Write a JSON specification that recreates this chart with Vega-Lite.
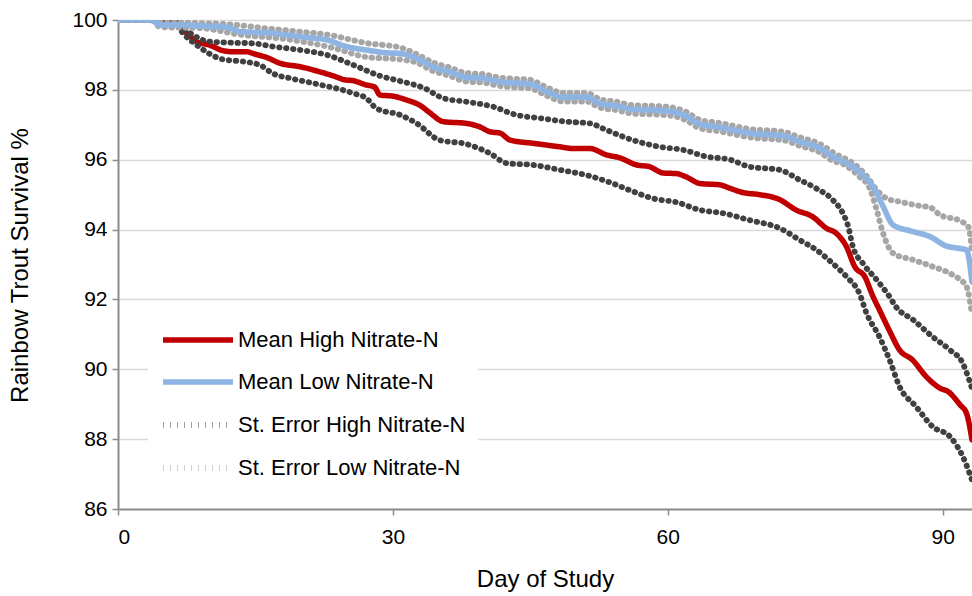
{
  "$schema": "https://vega.github.io/schema/vega-lite/v6.json",
  "width": 854,
  "height": 489,
  "autosize": {"type": "none"},
  "padding": {"left": 118, "top": 20, "right": 0, "bottom": 87},
  "background": "white",
  "config": {
    "view": {"stroke": null},
    "font": "Liberation Sans",
    "axis": {"labelFont": "Liberation Sans", "titleFont": "Liberation Sans", "labelColor": "#000000", "titleColor": "#000000", "titleFontWeight": "normal"},
    "legend": {"labelFont": "Liberation Sans"}
  },
  "datasets": {
    "curves": [
      {"series": "Mean High Nitrate-N", "line": "MH", "day": 0, "value": 100},
      {"series": "Mean High Nitrate-N", "line": "MH", "day": 6, "value": 100},
      {"series": "Mean High Nitrate-N", "line": "MH", "day": 6.8, "value": 99.81},
      {"series": "Mean High Nitrate-N", "line": "MH", "day": 7.5, "value": 99.62},
      {"series": "Mean High Nitrate-N", "line": "MH", "day": 8.6, "value": 99.38},
      {"series": "Mean High Nitrate-N", "line": "MH", "day": 10, "value": 99.28},
      {"series": "Mean High Nitrate-N", "line": "MH", "day": 11.5, "value": 99.12},
      {"series": "Mean High Nitrate-N", "line": "MH", "day": 12.6, "value": 99.09},
      {"series": "Mean High Nitrate-N", "line": "MH", "day": 14, "value": 99.09},
      {"series": "Mean High Nitrate-N", "line": "MH", "day": 15, "value": 99.02},
      {"series": "Mean High Nitrate-N", "line": "MH", "day": 16.2, "value": 98.93},
      {"series": "Mean High Nitrate-N", "line": "MH", "day": 17.7, "value": 98.76},
      {"series": "Mean High Nitrate-N", "line": "MH", "day": 19.9, "value": 98.66},
      {"series": "Mean High Nitrate-N", "line": "MH", "day": 21.7, "value": 98.54},
      {"series": "Mean High Nitrate-N", "line": "MH", "day": 23.5, "value": 98.4},
      {"series": "Mean High Nitrate-N", "line": "MH", "day": 24.9, "value": 98.28},
      {"series": "Mean High Nitrate-N", "line": "MH", "day": 25.5, "value": 98.27},
      {"series": "Mean High Nitrate-N", "line": "MH", "day": 27.1, "value": 98.14},
      {"series": "Mean High Nitrate-N", "line": "MH", "day": 28, "value": 98.08},
      {"series": "Mean High Nitrate-N", "line": "MH", "day": 28.6, "value": 97.85},
      {"series": "Mean High Nitrate-N", "line": "MH", "day": 30, "value": 97.82},
      {"series": "Mean High Nitrate-N", "line": "MH", "day": 31.5, "value": 97.71},
      {"series": "Mean High Nitrate-N", "line": "MH", "day": 33, "value": 97.55},
      {"series": "Mean High Nitrate-N", "line": "MH", "day": 34, "value": 97.35},
      {"series": "Mean High Nitrate-N", "line": "MH", "day": 35.5, "value": 97.09},
      {"series": "Mean High Nitrate-N", "line": "MH", "day": 38, "value": 97.04},
      {"series": "Mean High Nitrate-N", "line": "MH", "day": 39.5, "value": 96.94},
      {"series": "Mean High Nitrate-N", "line": "MH", "day": 40.6, "value": 96.8},
      {"series": "Mean High Nitrate-N", "line": "MH", "day": 41.7, "value": 96.76},
      {"series": "Mean High Nitrate-N", "line": "MH", "day": 42.8, "value": 96.56},
      {"series": "Mean High Nitrate-N", "line": "MH", "day": 45.3, "value": 96.47},
      {"series": "Mean High Nitrate-N", "line": "MH", "day": 48.2, "value": 96.37},
      {"series": "Mean High Nitrate-N", "line": "MH", "day": 49.7, "value": 96.32},
      {"series": "Mean High Nitrate-N", "line": "MH", "day": 51.5, "value": 96.32},
      {"series": "Mean High Nitrate-N", "line": "MH", "day": 53.3, "value": 96.14},
      {"series": "Mean High Nitrate-N", "line": "MH", "day": 54.8, "value": 96.05},
      {"series": "Mean High Nitrate-N", "line": "MH", "day": 56.6, "value": 95.85},
      {"series": "Mean High Nitrate-N", "line": "MH", "day": 58, "value": 95.8},
      {"series": "Mean High Nitrate-N", "line": "MH", "day": 59.5, "value": 95.62},
      {"series": "Mean High Nitrate-N", "line": "MH", "day": 61, "value": 95.6},
      {"series": "Mean High Nitrate-N", "line": "MH", "day": 62, "value": 95.51},
      {"series": "Mean High Nitrate-N", "line": "MH", "day": 63.5, "value": 95.32},
      {"series": "Mean High Nitrate-N", "line": "MH", "day": 65.7, "value": 95.28},
      {"series": "Mean High Nitrate-N", "line": "MH", "day": 66.8, "value": 95.18},
      {"series": "Mean High Nitrate-N", "line": "MH", "day": 68.2, "value": 95.06},
      {"series": "Mean High Nitrate-N", "line": "MH", "day": 70, "value": 95.0},
      {"series": "Mean High Nitrate-N", "line": "MH", "day": 72.2, "value": 94.86},
      {"series": "Mean High Nitrate-N", "line": "MH", "day": 74, "value": 94.56},
      {"series": "Mean High Nitrate-N", "line": "MH", "day": 75.8, "value": 94.37},
      {"series": "Mean High Nitrate-N", "line": "MH", "day": 77.3, "value": 94.04},
      {"series": "Mean High Nitrate-N", "line": "MH", "day": 78.4, "value": 93.89},
      {"series": "Mean High Nitrate-N", "line": "MH", "day": 79.5, "value": 93.51},
      {"series": "Mean High Nitrate-N", "line": "MH", "day": 80.4, "value": 92.94},
      {"series": "Mean High Nitrate-N", "line": "MH", "day": 81.5, "value": 92.65},
      {"series": "Mean High Nitrate-N", "line": "MH", "day": 82.4, "value": 92.08},
      {"series": "Mean High Nitrate-N", "line": "MH", "day": 83.1, "value": 91.7},
      {"series": "Mean High Nitrate-N", "line": "MH", "day": 84.2, "value": 91.1},
      {"series": "Mean High Nitrate-N", "line": "MH", "day": 85.3, "value": 90.55},
      {"series": "Mean High Nitrate-N", "line": "MH", "day": 86.7, "value": 90.27},
      {"series": "Mean High Nitrate-N", "line": "MH", "day": 88.2, "value": 89.79},
      {"series": "Mean High Nitrate-N", "line": "MH", "day": 89.7, "value": 89.46},
      {"series": "Mean High Nitrate-N", "line": "MH", "day": 90.6, "value": 89.36},
      {"series": "Mean High Nitrate-N", "line": "MH", "day": 91.9, "value": 88.98},
      {"series": "Mean High Nitrate-N", "line": "MH", "day": 92.6, "value": 88.74},
      {"series": "Mean High Nitrate-N", "line": "MH", "day": 93.2, "value": 87.98},

      {"series": "St. Error High Nitrate-N", "line": "SHU", "day": 0, "value": 100},
      {"series": "St. Error High Nitrate-N", "line": "SHU", "day": 6, "value": 100},
      {"series": "St. Error High Nitrate-N", "line": "SHU", "day": 6.8, "value": 99.85},
      {"series": "St. Error High Nitrate-N", "line": "SHU", "day": 8.2, "value": 99.57},
      {"series": "St. Error High Nitrate-N", "line": "SHU", "day": 10, "value": 99.38},
      {"series": "St. Error High Nitrate-N", "line": "SHU", "day": 12.6, "value": 99.35},
      {"series": "St. Error High Nitrate-N", "line": "SHU", "day": 14.8, "value": 99.33},
      {"series": "St. Error High Nitrate-N", "line": "SHU", "day": 16.9, "value": 99.24},
      {"series": "St. Error High Nitrate-N", "line": "SHU", "day": 19.9, "value": 99.14},
      {"series": "St. Error High Nitrate-N", "line": "SHU", "day": 22.8, "value": 99.0},
      {"series": "St. Error High Nitrate-N", "line": "SHU", "day": 25.7, "value": 98.71},
      {"series": "St. Error High Nitrate-N", "line": "SHU", "day": 28.6, "value": 98.4},
      {"series": "St. Error High Nitrate-N", "line": "SHU", "day": 30.8, "value": 98.25},
      {"series": "St. Error High Nitrate-N", "line": "SHU", "day": 33.5, "value": 98.04},
      {"series": "St. Error High Nitrate-N", "line": "SHU", "day": 35.5, "value": 97.76},
      {"series": "St. Error High Nitrate-N", "line": "SHU", "day": 38, "value": 97.66},
      {"series": "St. Error High Nitrate-N", "line": "SHU", "day": 40.9, "value": 97.52},
      {"series": "St. Error High Nitrate-N", "line": "SHU", "day": 43.5, "value": 97.28},
      {"series": "St. Error High Nitrate-N", "line": "SHU", "day": 46, "value": 97.19},
      {"series": "St. Error High Nitrate-N", "line": "SHU", "day": 48.9, "value": 97.09},
      {"series": "St. Error High Nitrate-N", "line": "SHU", "day": 51.5, "value": 97.04},
      {"series": "St. Error High Nitrate-N", "line": "SHU", "day": 53.3, "value": 96.85},
      {"series": "St. Error High Nitrate-N", "line": "SHU", "day": 56.2, "value": 96.56},
      {"series": "St. Error High Nitrate-N", "line": "SHU", "day": 59.1, "value": 96.37},
      {"series": "St. Error High Nitrate-N", "line": "SHU", "day": 61.7, "value": 96.28},
      {"series": "St. Error High Nitrate-N", "line": "SHU", "day": 64.2, "value": 96.09},
      {"series": "St. Error High Nitrate-N", "line": "SHU", "day": 66.8, "value": 96.0},
      {"series": "St. Error High Nitrate-N", "line": "SHU", "day": 68.9, "value": 95.8},
      {"series": "St. Error High Nitrate-N", "line": "SHU", "day": 72.2, "value": 95.71},
      {"series": "St. Error High Nitrate-N", "line": "SHU", "day": 74.4, "value": 95.42},
      {"series": "St. Error High Nitrate-N", "line": "SHU", "day": 76.2, "value": 95.18},
      {"series": "St. Error High Nitrate-N", "line": "SHU", "day": 78, "value": 94.85},
      {"series": "St. Error High Nitrate-N", "line": "SHU", "day": 79.1, "value": 94.47},
      {"series": "St. Error High Nitrate-N", "line": "SHU", "day": 79.7, "value": 94.08},
      {"series": "St. Error High Nitrate-N", "line": "SHU", "day": 80.2, "value": 93.51},
      {"series": "St. Error High Nitrate-N", "line": "SHU", "day": 81.3, "value": 93.03},
      {"series": "St. Error High Nitrate-N", "line": "SHU", "day": 82.8, "value": 92.56},
      {"series": "St. Error High Nitrate-N", "line": "SHU", "day": 84.2, "value": 92.08},
      {"series": "St. Error High Nitrate-N", "line": "SHU", "day": 84.9, "value": 91.79},
      {"series": "St. Error High Nitrate-N", "line": "SHU", "day": 86.8, "value": 91.41},
      {"series": "St. Error High Nitrate-N", "line": "SHU", "day": 88.9, "value": 90.93},
      {"series": "St. Error High Nitrate-N", "line": "SHU", "day": 90.8, "value": 90.55},
      {"series": "St. Error High Nitrate-N", "line": "SHU", "day": 92.2, "value": 90.17},
      {"series": "St. Error High Nitrate-N", "line": "SHU", "day": 92.9, "value": 89.69},
      {"series": "St. Error High Nitrate-N", "line": "SHU", "day": 93.2, "value": 89.45},

      {"series": "St. Error High Nitrate-N", "line": "SHL", "day": 0, "value": 100},
      {"series": "St. Error High Nitrate-N", "line": "SHL", "day": 6, "value": 100},
      {"series": "St. Error High Nitrate-N", "line": "SHL", "day": 7.1, "value": 99.62},
      {"series": "St. Error High Nitrate-N", "line": "SHL", "day": 8.6, "value": 99.28},
      {"series": "St. Error High Nitrate-N", "line": "SHL", "day": 11.5, "value": 98.87},
      {"series": "St. Error High Nitrate-N", "line": "SHL", "day": 13.7, "value": 98.81},
      {"series": "St. Error High Nitrate-N", "line": "SHL", "day": 15.5, "value": 98.71},
      {"series": "St. Error High Nitrate-N", "line": "SHL", "day": 16.9, "value": 98.47},
      {"series": "St. Error High Nitrate-N", "line": "SHL", "day": 19, "value": 98.32},
      {"series": "St. Error High Nitrate-N", "line": "SHL", "day": 21.3, "value": 98.19},
      {"series": "St. Error High Nitrate-N", "line": "SHL", "day": 25.7, "value": 97.9},
      {"series": "St. Error High Nitrate-N", "line": "SHL", "day": 27.1, "value": 97.76},
      {"series": "St. Error High Nitrate-N", "line": "SHL", "day": 28.2, "value": 97.47},
      {"series": "St. Error High Nitrate-N", "line": "SHL", "day": 30.8, "value": 97.28},
      {"series": "St. Error High Nitrate-N", "line": "SHL", "day": 32.6, "value": 97.04},
      {"series": "St. Error High Nitrate-N", "line": "SHL", "day": 35.1, "value": 96.56},
      {"series": "St. Error High Nitrate-N", "line": "SHL", "day": 38, "value": 96.45},
      {"series": "St. Error High Nitrate-N", "line": "SHL", "day": 40.6, "value": 96.18},
      {"series": "St. Error High Nitrate-N", "line": "SHL", "day": 42.4, "value": 95.9},
      {"series": "St. Error High Nitrate-N", "line": "SHL", "day": 45.3, "value": 95.85},
      {"series": "St. Error High Nitrate-N", "line": "SHL", "day": 48.2, "value": 95.71},
      {"series": "St. Error High Nitrate-N", "line": "SHL", "day": 51.1, "value": 95.56},
      {"series": "St. Error High Nitrate-N", "line": "SHL", "day": 54, "value": 95.32},
      {"series": "St. Error High Nitrate-N", "line": "SHL", "day": 56.2, "value": 95.09},
      {"series": "St. Error High Nitrate-N", "line": "SHL", "day": 58.4, "value": 94.89},
      {"series": "St. Error High Nitrate-N", "line": "SHL", "day": 61, "value": 94.78},
      {"series": "St. Error High Nitrate-N", "line": "SHL", "day": 63.5, "value": 94.56},
      {"series": "St. Error High Nitrate-N", "line": "SHL", "day": 66, "value": 94.47},
      {"series": "St. Error High Nitrate-N", "line": "SHL", "day": 68.9, "value": 94.27},
      {"series": "St. Error High Nitrate-N", "line": "SHL", "day": 72.2, "value": 94.04},
      {"series": "St. Error High Nitrate-N", "line": "SHL", "day": 74.4, "value": 93.7},
      {"series": "St. Error High Nitrate-N", "line": "SHL", "day": 76.2, "value": 93.42},
      {"series": "St. Error High Nitrate-N", "line": "SHL", "day": 78, "value": 93.03},
      {"series": "St. Error High Nitrate-N", "line": "SHL", "day": 79.5, "value": 92.65},
      {"series": "St. Error High Nitrate-N", "line": "SHL", "day": 80.9, "value": 92.18},
      {"series": "St. Error High Nitrate-N", "line": "SHL", "day": 81.7, "value": 91.6},
      {"series": "St. Error High Nitrate-N", "line": "SHL", "day": 83.1, "value": 90.93},
      {"series": "St. Error High Nitrate-N", "line": "SHL", "day": 84.2, "value": 90.27},
      {"series": "St. Error High Nitrate-N", "line": "SHL", "day": 85.3, "value": 89.5},
      {"series": "St. Error High Nitrate-N", "line": "SHL", "day": 87.1, "value": 88.93},
      {"series": "St. Error High Nitrate-N", "line": "SHL", "day": 88.9, "value": 88.36},
      {"series": "St. Error High Nitrate-N", "line": "SHL", "day": 90.8, "value": 88.07},
      {"series": "St. Error High Nitrate-N", "line": "SHL", "day": 92.2, "value": 87.5},
      {"series": "St. Error High Nitrate-N", "line": "SHL", "day": 93.2, "value": 86.83},

      {"series": "St. Error Low Nitrate-N", "line": "SLU", "day": 0, "value": 100},
      {"series": "St. Error Low Nitrate-N", "line": "SLU", "day": 6, "value": 100},
      {"series": "St. Error Low Nitrate-N", "line": "SLU", "day": 7, "value": 99.93},
      {"series": "St. Error Low Nitrate-N", "line": "SLU", "day": 11.9, "value": 99.88},
      {"series": "St. Error Low Nitrate-N", "line": "SLU", "day": 16.9, "value": 99.74},
      {"series": "St. Error Low Nitrate-N", "line": "SLU", "day": 20, "value": 99.66},
      {"series": "St. Error Low Nitrate-N", "line": "SLU", "day": 23.5, "value": 99.55},
      {"series": "St. Error Low Nitrate-N", "line": "SLU", "day": 25, "value": 99.46},
      {"series": "St. Error Low Nitrate-N", "line": "SLU", "day": 27.1, "value": 99.34},
      {"series": "St. Error Low Nitrate-N", "line": "SLU", "day": 30.8, "value": 99.21},
      {"series": "St. Error Low Nitrate-N", "line": "SLU", "day": 32.6, "value": 99.02},
      {"series": "St. Error Low Nitrate-N", "line": "SLU", "day": 34.4, "value": 98.78},
      {"series": "St. Error Low Nitrate-N", "line": "SLU", "day": 36.2, "value": 98.64},
      {"series": "St. Error Low Nitrate-N", "line": "SLU", "day": 38, "value": 98.48},
      {"series": "St. Error Low Nitrate-N", "line": "SLU", "day": 39.8, "value": 98.45},
      {"series": "St. Error Low Nitrate-N", "line": "SLU", "day": 41.7, "value": 98.35},
      {"series": "St. Error Low Nitrate-N", "line": "SLU", "day": 43.5, "value": 98.31},
      {"series": "St. Error Low Nitrate-N", "line": "SLU", "day": 44.9, "value": 98.29},
      {"series": "St. Error Low Nitrate-N", "line": "SLU", "day": 46.8, "value": 98.07},
      {"series": "St. Error Low Nitrate-N", "line": "SLU", "day": 48.6, "value": 97.91},
      {"series": "St. Error Low Nitrate-N", "line": "SLU", "day": 51.1, "value": 97.91},
      {"series": "St. Error Low Nitrate-N", "line": "SLU", "day": 52.6, "value": 97.73},
      {"series": "St. Error Low Nitrate-N", "line": "SLU", "day": 54.4, "value": 97.66},
      {"series": "St. Error Low Nitrate-N", "line": "SLU", "day": 56.2, "value": 97.56},
      {"series": "St. Error Low Nitrate-N", "line": "SLU", "day": 58.4, "value": 97.54},
      {"series": "St. Error Low Nitrate-N", "line": "SLU", "day": 60.6, "value": 97.49},
      {"series": "St. Error Low Nitrate-N", "line": "SLU", "day": 62, "value": 97.37},
      {"series": "St. Error Low Nitrate-N", "line": "SLU", "day": 63.5, "value": 97.14},
      {"series": "St. Error Low Nitrate-N", "line": "SLU", "day": 65.7, "value": 97.05},
      {"series": "St. Error Low Nitrate-N", "line": "SLU", "day": 66.8, "value": 96.99},
      {"series": "St. Error Low Nitrate-N", "line": "SLU", "day": 68.9, "value": 96.88},
      {"series": "St. Error Low Nitrate-N", "line": "SLU", "day": 72.6, "value": 96.8},
      {"series": "St. Error Low Nitrate-N", "line": "SLU", "day": 74.4, "value": 96.64},
      {"series": "St. Error Low Nitrate-N", "line": "SLU", "day": 76.6, "value": 96.45},
      {"series": "St. Error Low Nitrate-N", "line": "SLU", "day": 78, "value": 96.21},
      {"series": "St. Error Low Nitrate-N", "line": "SLU", "day": 80.6, "value": 95.82},
      {"series": "St. Error Low Nitrate-N", "line": "SLU", "day": 81.7, "value": 95.53},
      {"series": "St. Error Low Nitrate-N", "line": "SLU", "day": 82.8, "value": 95.13},
      {"series": "St. Error Low Nitrate-N", "line": "SLU", "day": 83.9, "value": 94.89},
      {"series": "St. Error Low Nitrate-N", "line": "SLU", "day": 85.3, "value": 94.8},
      {"series": "St. Error Low Nitrate-N", "line": "SLU", "day": 87.5, "value": 94.68},
      {"series": "St. Error Low Nitrate-N", "line": "SLU", "day": 88.6, "value": 94.64},
      {"series": "St. Error Low Nitrate-N", "line": "SLU", "day": 89.7, "value": 94.42},
      {"series": "St. Error Low Nitrate-N", "line": "SLU", "day": 91.9, "value": 94.25},
      {"series": "St. Error Low Nitrate-N", "line": "SLU", "day": 92.8, "value": 94.08},
      {"series": "St. Error Low Nitrate-N", "line": "SLU", "day": 93.2, "value": 93.4},

      {"series": "St. Error Low Nitrate-N", "line": "SLL", "day": 0, "value": 100},
      {"series": "St. Error Low Nitrate-N", "line": "SLL", "day": 3.6, "value": 100},
      {"series": "St. Error Low Nitrate-N", "line": "SLL", "day": 4.6, "value": 99.8},
      {"series": "St. Error Low Nitrate-N", "line": "SLL", "day": 9, "value": 99.77},
      {"series": "St. Error Low Nitrate-N", "line": "SLL", "day": 13.3, "value": 99.58},
      {"series": "St. Error Low Nitrate-N", "line": "SLL", "day": 18.4, "value": 99.45},
      {"series": "St. Error Low Nitrate-N", "line": "SLL", "day": 23.5, "value": 99.2},
      {"series": "St. Error Low Nitrate-N", "line": "SLL", "day": 27.1, "value": 98.94},
      {"series": "St. Error Low Nitrate-N", "line": "SLL", "day": 30.8, "value": 98.87},
      {"series": "St. Error Low Nitrate-N", "line": "SLL", "day": 32.6, "value": 98.78},
      {"series": "St. Error Low Nitrate-N", "line": "SLL", "day": 34.4, "value": 98.54},
      {"series": "St. Error Low Nitrate-N", "line": "SLL", "day": 36.2, "value": 98.4},
      {"series": "St. Error Low Nitrate-N", "line": "SLL", "day": 38, "value": 98.24},
      {"series": "St. Error Low Nitrate-N", "line": "SLL", "day": 39.8, "value": 98.21},
      {"series": "St. Error Low Nitrate-N", "line": "SLL", "day": 41.7, "value": 98.11},
      {"series": "St. Error Low Nitrate-N", "line": "SLL", "day": 43.5, "value": 98.07},
      {"series": "St. Error Low Nitrate-N", "line": "SLL", "day": 44.9, "value": 98.05},
      {"series": "St. Error Low Nitrate-N", "line": "SLL", "day": 46.8, "value": 97.83},
      {"series": "St. Error Low Nitrate-N", "line": "SLL", "day": 48.6, "value": 97.67},
      {"series": "St. Error Low Nitrate-N", "line": "SLL", "day": 51.1, "value": 97.67},
      {"series": "St. Error Low Nitrate-N", "line": "SLL", "day": 52.6, "value": 97.49},
      {"series": "St. Error Low Nitrate-N", "line": "SLL", "day": 54.4, "value": 97.42},
      {"series": "St. Error Low Nitrate-N", "line": "SLL", "day": 56.2, "value": 97.32},
      {"series": "St. Error Low Nitrate-N", "line": "SLL", "day": 58.4, "value": 97.3},
      {"series": "St. Error Low Nitrate-N", "line": "SLL", "day": 60.6, "value": 97.25},
      {"series": "St. Error Low Nitrate-N", "line": "SLL", "day": 62, "value": 97.13},
      {"series": "St. Error Low Nitrate-N", "line": "SLL", "day": 63.5, "value": 96.9},
      {"series": "St. Error Low Nitrate-N", "line": "SLL", "day": 65.7, "value": 96.81},
      {"series": "St. Error Low Nitrate-N", "line": "SLL", "day": 66.8, "value": 96.75},
      {"series": "St. Error Low Nitrate-N", "line": "SLL", "day": 68.9, "value": 96.64},
      {"series": "St. Error Low Nitrate-N", "line": "SLL", "day": 72.6, "value": 96.56},
      {"series": "St. Error Low Nitrate-N", "line": "SLL", "day": 74.4, "value": 96.4},
      {"series": "St. Error Low Nitrate-N", "line": "SLL", "day": 76.6, "value": 96.21},
      {"series": "St. Error Low Nitrate-N", "line": "SLL", "day": 78, "value": 95.97},
      {"series": "St. Error Low Nitrate-N", "line": "SLL", "day": 79.1, "value": 95.88},
      {"series": "St. Error Low Nitrate-N", "line": "SLL", "day": 80.9, "value": 95.52},
      {"series": "St. Error Low Nitrate-N", "line": "SLL", "day": 82, "value": 95.2},
      {"series": "St. Error Low Nitrate-N", "line": "SLL", "day": 82.8, "value": 94.56},
      {"series": "St. Error Low Nitrate-N", "line": "SLL", "day": 83.5, "value": 93.89},
      {"series": "St. Error Low Nitrate-N", "line": "SLL", "day": 84.6, "value": 93.32},
      {"series": "St. Error Low Nitrate-N", "line": "SLL", "day": 86.8, "value": 93.13},
      {"series": "St. Error Low Nitrate-N", "line": "SLL", "day": 88.9, "value": 92.94},
      {"series": "St. Error Low Nitrate-N", "line": "SLL", "day": 91.1, "value": 92.7},
      {"series": "St. Error Low Nitrate-N", "line": "SLL", "day": 92.6, "value": 92.37},
      {"series": "St. Error Low Nitrate-N", "line": "SLL", "day": 93.2, "value": 91.55},

      {"series": "Mean Low Nitrate-N", "line": "ML", "day": 0, "value": 100},
      {"series": "Mean Low Nitrate-N", "line": "ML", "day": 3.6, "value": 100},
      {"series": "Mean Low Nitrate-N", "line": "ML", "day": 4.6, "value": 99.86},
      {"series": "Mean Low Nitrate-N", "line": "ML", "day": 6.8, "value": 99.86},
      {"series": "Mean Low Nitrate-N", "line": "ML", "day": 9, "value": 99.83},
      {"series": "Mean Low Nitrate-N", "line": "ML", "day": 11.9, "value": 99.79},
      {"series": "Mean Low Nitrate-N", "line": "ML", "day": 13.3, "value": 99.67},
      {"series": "Mean Low Nitrate-N", "line": "ML", "day": 16.9, "value": 99.62},
      {"series": "Mean Low Nitrate-N", "line": "ML", "day": 18.4, "value": 99.57},
      {"series": "Mean Low Nitrate-N", "line": "ML", "day": 20.6, "value": 99.5},
      {"series": "Mean Low Nitrate-N", "line": "ML", "day": 22.8, "value": 99.43},
      {"series": "Mean Low Nitrate-N", "line": "ML", "day": 24.9, "value": 99.24},
      {"series": "Mean Low Nitrate-N", "line": "ML", "day": 27.1, "value": 99.14},
      {"series": "Mean Low Nitrate-N", "line": "ML", "day": 29.3, "value": 99.06},
      {"series": "Mean Low Nitrate-N", "line": "ML", "day": 30.8, "value": 99.04},
      {"series": "Mean Low Nitrate-N", "line": "ML", "day": 32.6, "value": 98.9},
      {"series": "Mean Low Nitrate-N", "line": "ML", "day": 34.4, "value": 98.66},
      {"series": "Mean Low Nitrate-N", "line": "ML", "day": 36.2, "value": 98.52},
      {"series": "Mean Low Nitrate-N", "line": "ML", "day": 38, "value": 98.36},
      {"series": "Mean Low Nitrate-N", "line": "ML", "day": 39.8, "value": 98.33},
      {"series": "Mean Low Nitrate-N", "line": "ML", "day": 41.7, "value": 98.23},
      {"series": "Mean Low Nitrate-N", "line": "ML", "day": 43.5, "value": 98.19},
      {"series": "Mean Low Nitrate-N", "line": "ML", "day": 44.9, "value": 98.17},
      {"series": "Mean Low Nitrate-N", "line": "ML", "day": 46.8, "value": 97.95},
      {"series": "Mean Low Nitrate-N", "line": "ML", "day": 48.6, "value": 97.79},
      {"series": "Mean Low Nitrate-N", "line": "ML", "day": 51.1, "value": 97.79},
      {"series": "Mean Low Nitrate-N", "line": "ML", "day": 52.6, "value": 97.61},
      {"series": "Mean Low Nitrate-N", "line": "ML", "day": 54.4, "value": 97.54},
      {"series": "Mean Low Nitrate-N", "line": "ML", "day": 56.2, "value": 97.44},
      {"series": "Mean Low Nitrate-N", "line": "ML", "day": 58.4, "value": 97.42},
      {"series": "Mean Low Nitrate-N", "line": "ML", "day": 60.6, "value": 97.37},
      {"series": "Mean Low Nitrate-N", "line": "ML", "day": 62, "value": 97.25},
      {"series": "Mean Low Nitrate-N", "line": "ML", "day": 63.5, "value": 97.02},
      {"series": "Mean Low Nitrate-N", "line": "ML", "day": 65.7, "value": 96.93},
      {"series": "Mean Low Nitrate-N", "line": "ML", "day": 66.8, "value": 96.87},
      {"series": "Mean Low Nitrate-N", "line": "ML", "day": 68.9, "value": 96.76},
      {"series": "Mean Low Nitrate-N", "line": "ML", "day": 72.6, "value": 96.68},
      {"series": "Mean Low Nitrate-N", "line": "ML", "day": 74.4, "value": 96.52},
      {"series": "Mean Low Nitrate-N", "line": "ML", "day": 76.6, "value": 96.33},
      {"series": "Mean Low Nitrate-N", "line": "ML", "day": 78, "value": 96.09},
      {"series": "Mean Low Nitrate-N", "line": "ML", "day": 79.9, "value": 95.85},
      {"series": "Mean Low Nitrate-N", "line": "ML", "day": 81.3, "value": 95.56},
      {"series": "Mean Low Nitrate-N", "line": "ML", "day": 82.4, "value": 95.23},
      {"series": "Mean Low Nitrate-N", "line": "ML", "day": 83.5, "value": 94.66},
      {"series": "Mean Low Nitrate-N", "line": "ML", "day": 84.6, "value": 94.13},
      {"series": "Mean Low Nitrate-N", "line": "ML", "day": 86.8, "value": 93.94},
      {"series": "Mean Low Nitrate-N", "line": "ML", "day": 88.6, "value": 93.8},
      {"series": "Mean Low Nitrate-N", "line": "ML", "day": 90.4, "value": 93.53},
      {"series": "Mean Low Nitrate-N", "line": "ML", "day": 91.8, "value": 93.46},
      {"series": "Mean Low Nitrate-N", "line": "ML", "day": 92.6, "value": 93.42},
      {"series": "Mean Low Nitrate-N", "line": "ML", "day": 93.2, "value": 92.5}
    ]
  },
  "data": {"name": "curves"},
  "encoding": {
    "x": {
      "field": "day", "type": "quantitative",
      "scale": {"domain": [0, 93.2], "nice": false, "zero": false},
      "axis": {
        "title": "Day of Study", "titleFontSize": 24,
        "titleX": 427, "titleY": 77, "titleBaseline": "alphabetic", "titleAlign": "center",
        "values": [0, 30, 60, 90], "format": "d",
        "labelFontSize": 21, "labelPadding": 11,
        "grid": false, "domainColor": "#8c8c8c", "domainWidth": 2,
        "tickColor": "#8c8c8c", "tickWidth": 1.5, "tickSize": 6
      }
    },
    "y": {
      "field": "value", "type": "quantitative",
      "scale": {"domain": [86, 100], "nice": false, "zero": false},
      "axis": {
        "title": "Rainbow Trout Survival %", "titleFontSize": 24,
        "titleX": -91, "titleY": 245, "titleAngle": -90, "titleBaseline": "alphabetic", "titleAlign": "center",
        "values": [86, 88, 90, 92, 94, 96, 98, 100],
        "labelFontSize": 21, "labelPadding": 5,
        "grid": true, "gridColor": "#d9d9d9", "gridWidth": 1.5,
        "domainColor": "#8c8c8c", "domainWidth": 2,
        "tickColor": "#8c8c8c", "tickWidth": 1.5, "tickSize": 6
      }
    },
    "color": {
      "field": "series", "type": "nominal",
      "scale": {
        "domain": ["Mean High Nitrate-N", "Mean Low Nitrate-N", "St. Error High Nitrate-N", "St. Error Low Nitrate-N"],
        "range": ["#c00000", "#8db4e2", "#404040", "#a6a6a6"]
      },
      "legend": {
        "title": null, "orient": "none", "legendX": 30, "legendY": 295,
        "fillColor": "white", "padding": 12,
        "symbolType": "M-1,0H6", "symbolSize": 400,
        "labelFontSize": 22, "labelOffset": 52, "labelColor": "#000000",
        "rowPadding": 18, "labelLimit": 400
      }
    },
    "strokeDash": {
      "field": "series", "type": "nominal",
      "scale": {
        "domain": ["Mean High Nitrate-N", "Mean Low Nitrate-N", "St. Error High Nitrate-N", "St. Error Low Nitrate-N"],
        "range": [[1, 0], [1, 0], [0.5, 6.5], [0.5, 6.5]]
      },
      "legend": {
        "title": null, "orient": "none", "legendX": 30, "legendY": 295,
        "fillColor": "white", "padding": 12,
        "symbolType": "M-1,0H6", "symbolSize": 400,
        "labelFontSize": 22, "labelOffset": 52, "labelColor": "#000000",
        "rowPadding": 18, "labelLimit": 400
      }
    },
    "strokeWidth": {
      "field": "series", "type": "nominal",
      "scale": {
        "domain": ["Mean High Nitrate-N", "Mean Low Nitrate-N", "St. Error High Nitrate-N", "St. Error Low Nitrate-N"],
        "range": [5.5, 6, 2.5, 2.5]
      },
      "legend": {
        "title": null, "orient": "none", "legendX": 30, "legendY": 295,
        "fillColor": "white", "padding": 12,
        "symbolType": "M-1,0H6", "symbolSize": 400,
        "labelFontSize": 22, "labelOffset": 52, "labelColor": "#000000",
        "rowPadding": 18, "labelLimit": 400
      }
    },
    "detail": {"field": "line", "type": "nominal"},
    "order": {"field": "day", "type": "quantitative"}
  },
  "layer": [
    {
      "transform": [{"filter": "datum.line != 'ML'"}],
      "mark": {"type": "line", "clip": true, "strokeCap": "round", "strokeJoin": "round", "interpolate": "monotone"}
    },
    {
      "transform": [{"filter": "datum.line == 'ML'"}],
      "mark": {"type": "line", "clip": true, "strokeCap": "round", "strokeJoin": "round", "interpolate": "monotone"}
    }
  ]
}
